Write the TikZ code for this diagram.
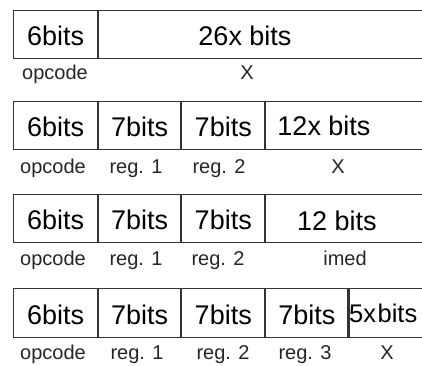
\documentclass[tikz,border=0pt]{standalone}
\usepackage{fontspec}
\setmainfont{Liberation Sans}
\begin{document}
\begin{tikzpicture}[x=1pt,y=-1pt,
  cell/.style={draw=black!80, line width=1.1pt, anchor=north west, minimum height=48pt, inner sep=0pt, text height=22pt, text depth=0pt, font=\fontsize{27}{30}\selectfont},
  bits/.style={anchor=base, inner sep=0pt, font=\fontsize{27}{30}\selectfont},
  lab/.style={anchor=base, inner sep=0pt, text=black!85, font=\fontsize{20}{24}\selectfont}]
\path[use as bounding box, clip] (0,0) rectangle (422,365);
\fill[white] (0,0) rectangle (422,365);
% row 1
\node[cell, minimum width=84pt] (r1a) at (13,10) {6bits};
\node[cell, minimum width=340pt] (r1b) at (r1a.north east) {};
\node[bits] (r1bt) at (245,45) {26x bits};
\node[lab] (r1al) at (55,79) {opcode};
\node[lab] (r1bl) at (247,79) {X};
% row 2
\node[cell, minimum width=84pt] (r2a) at (13,101) {6bits};
\node[cell, minimum width=82pt] (r2b) at (r2a.north east) {7bits};
\node[cell, minimum width=83pt] (r2c) at (r2b.north east) {7bits};
\node[cell, minimum width=180pt] (r2d) at (r2c.north east) {};
\node[bits] (r2dt) at (324,135) {12x bits};
\node[lab] (r2al) at (53,173) {opcode};
\node[lab] (r2bl) at (136,173) {reg. 1};
\node[lab] (r2cl) at (219,173) {reg. 2};
\node[lab] (r2dl) at (338,173) {X};
% row 3
\node[cell, minimum width=84pt] (r3a) at (13,194) {6bits};
\node[cell, minimum width=82pt] (r3b) at (r3a.north east) {7bits};
\node[cell, minimum width=83pt] (r3c) at (r3b.north east) {7bits};
\node[cell, minimum width=180pt] (r3d) at (r3c.north east) {};
\node[bits] (r3dt) at (337,230) {12 bits};
\node[lab] (r3al) at (53,265) {opcode};
\node[lab] (r3bl) at (136,265) {reg. 1};
\node[lab] (r3cl) at (218,265) {reg. 2};
\node[lab] (r3dl) at (345,265) {imed};
% row 4
\node[cell, minimum width=84pt, minimum height=49pt] (r4a) at (13,288) {6bits};
\node[cell, minimum width=82pt, minimum height=49pt] (r4b) at (r4a.north east) {7bits};
\node[cell, minimum width=83pt, minimum height=49pt] (r4c) at (r4b.north east) {7bits};
\node[cell, minimum width=82pt, minimum height=49pt] (r4d) at (r4c.north east) {7bits};
\node[cell, minimum width=100pt, minimum height=49pt] (r4e) at (r4d.north east) {};
\node[bits, anchor=base west, font=\fontsize{25.5}{30}\selectfont] (r4et) at (349,322) {5x\kern1.5pt bits};
\node[lab] (r4al) at (53,359) {opcode};
\node[lab] (r4bl) at (137,359) {reg. 1};
\node[lab] (r4cl) at (223,359) {reg. 2};
\node[lab] (r4dl) at (305,359) {reg. 3};
\node[lab] (r4el) at (387,359) {X};
\end{tikzpicture}
\end{document}
